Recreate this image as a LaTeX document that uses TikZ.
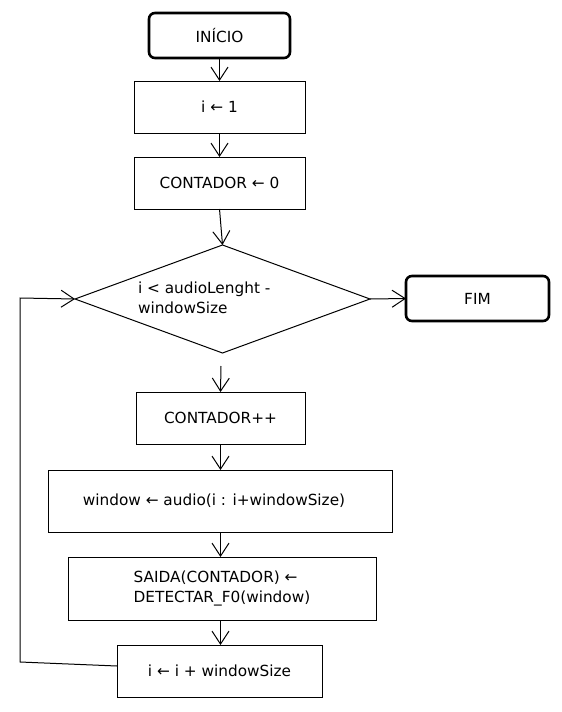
\documentclass[tikz,border=0pt]{standalone}
\usepackage{fontspec}
\setmainfont{DejaVu Sans}
\usetikzlibrary{shapes.geometric,arrows.meta}
\begin{document}
\begin{tikzpicture}[x=1pt,y=-1pt,
  font=\fontsize{15.3}{20}\selectfont,
  every node/.style={inner sep=0pt, outer sep=0pt},
  stepbox/.style={draw, line width=1pt, rectangle, align=center},
  termbox/.style={draw, line width=2.6pt, rectangle, rounded corners=6pt, align=center},
  decbox/.style={draw, line width=1pt, diamond, minimum width=295pt, minimum height=108pt},
  arr/.style={line width=1pt, -{Straight Barb[length=13pt,width=17pt,line width=1pt]}},
  link/.style={line width=1pt}]
  \useasboundingbox (0,0) rectangle (562,712);

  % process boxes
  \node[termbox, minimum width=141pt, minimum height=45pt] (ini) at (219.5,35.5) {INÍCIO};
  \node[stepbox, minimum width=171pt, minimum height=52pt] (s1) at (219.5,107) {i ← 1};
  \node[stepbox, minimum width=171pt, minimum height=52pt] (s2) at (219.5,183) {CONTADOR ← 0};
  \node[decbox] (dec) at (222.5,299) {};
  \node[align=left, anchor=west] (dect) at (138,298) {i < audioLenght -\\windowSize};
  \node[termbox, minimum width=143pt, minimum height=45pt] (fim) at (477.5,298.5) {FIM};
  \coordinate (below) at (221,366);
  \node[stepbox, minimum width=169pt, minimum height=52pt] (s3) at (220.5,418) {CONTADOR++};
  \node[stepbox, minimum width=344pt, minimum height=62pt] (s4) at (220,501) {window ← audio(i : i+windowSize)\hspace{12pt}};
  \node[stepbox, minimum width=308pt, minimum height=63pt, align=left] (s5) at (222,588.5) {SAIDA(CONTADOR) ←\\DETECTAR\_F0(window)\hspace{6pt}};
  \node[stepbox, minimum width=205pt, minimum height=52pt] (s6) at (219.5,671) {i ← i + windowSize};

  % connectors
  \draw[arr] (ini) -- (s1);
  \draw[arr] (s1) -- (s2);
  \draw[arr] (s2.south) -- (dec.north);
  \draw[arr] (dec.east) -- (fim.west);
  \draw[arr] (below) -- (s3.north);
  \draw[arr] (s3.south) -- (s4.north -| s3.south);
  \draw[arr] (s4.south -| s3.south) -- (s5.north -| s3.south);
  \draw[arr] (s5.south -| s3.south) -- (s6.north -| s3.south);

  % loop back to the test
  \coordinate (lb) at (20,662);
  \coordinate (lt) at (20,298);
  \draw[arr] ([yshift=5pt]s6.west) -- (lb) -- (lt) -- (dec.west);
\end{tikzpicture}
\end{document}
